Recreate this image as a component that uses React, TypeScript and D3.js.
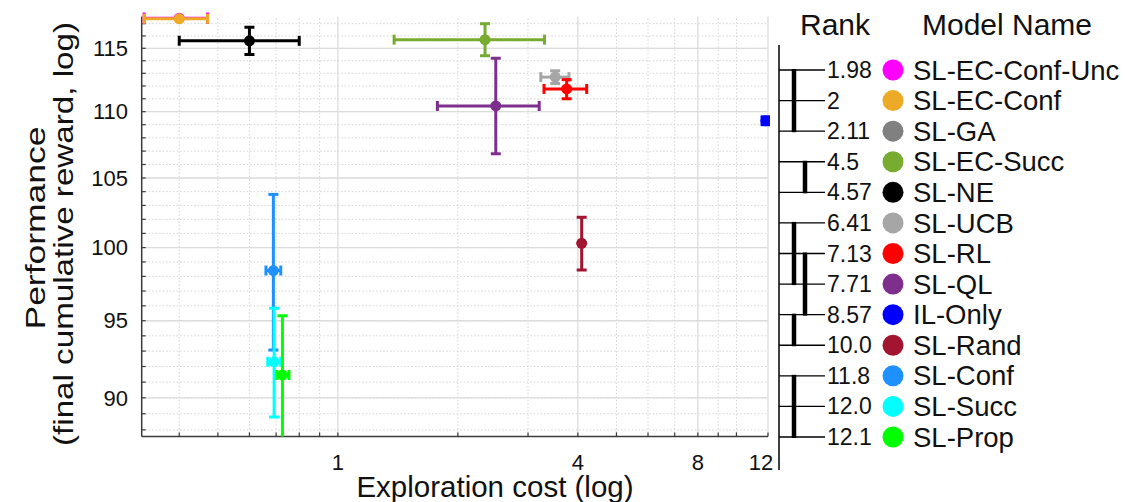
import React from "react";
import * as d3 from "d3";

// ---------- Legend / rank panel data ----------
const modelNames = [
  "SL-EC-Conf-Unc", "SL-EC-Conf", "SL-GA", "SL-EC-Succ", "SL-NE", "SL-UCB",
  "SL-RL", "SL-QL", "IL-Only", "SL-Rand", "SL-Conf", "SL-Succ", "SL-Prop",
];
const rankLabels = ["1.98", "2", "2.11", "4.5", "4.57", "6.41", "7.13", "7.71", "8.57", "10.0", "11.8", "12.0", "12.1"];
const modelColors = [
  "#ff00ff", "#edaa26", "#808080", "#77ac30", "#000000", "#a6a6a6",
  "#ff0000", "#7e2f8e", "#0000ff", "#a2142f", "#1e90ff", "#00ffff", "#00ff00",
];
// groups of models not significantly different (row index from..to, nesting level)
const groupFrom = [0, 3, 5, 6, 8, 10];
const groupTo = [2, 4, 7, 8, 9, 12];
const groupLevel = [0, 1, 0, 1, 0, 0];

// ---------- Scatter data ----------
const pointModels = [
  "SL-QL", "SL-EC-Succ", "SL-NE", "SL-UCB", "SL-RL", "IL-Only", "SL-Rand",
  "SL-Conf", "SL-Succ", "SL-Prop", "SL-EC-Conf-Unc", "SL-EC-Conf",
];
const costMean = [2.49, 2.34, 0.60, 3.51, 3.75, 11.85, 4.09, 0.689, 0.692, 0.726, 0.40, 0.40];
const costLow = [1.777, 1.384, 0.40, 3.23, 3.29, 11.6, 4.09, 0.66, 0.667, 0.703, 0.3265, 0.3265];
const costHigh = [3.20, 3.30, 0.80, 3.80, 4.21, 12.1, 4.09, 0.719, 0.719, 0.754, 0.471, 0.471];
const perfMean = [110.44, 115.7, 115.6, 112.7, 111.77, 109.3, 100.3, 98.4, 92.3, 91.45, 117.45, 117.4];
const perfLow = [106.8, 114.4, 114.5, 112.2, 111.0, 109.0, 98.44, 93.07, 88.8, 87.0, 117.45, 117.4];
const perfHigh = [114.2, 117.0, 116.7, 113.2, 112.5, 109.6, 102.15, 103.8, 95.83, 95.34, 117.45, 117.4];

// ---------- Axis ticks ----------
const xDomain = [0.322, 12];
const yDomain = [87.6, 117.6];
const xTickLabels = [1, 4, 8, 12];
const xMinorTicks = [0.4, 0.5, 0.6, 0.7, 0.8, 0.9, 2, 3, 5, 6, 7, 9, 10];
const yTickLabels = [90, 95, 100, 105, 110, 115];
const yMinorTicks = d3.range(88, 118);

const FONT = "'Liberation Sans', Arial, Helvetica, sans-serif";

export default function App() {
  const x = d3.scaleLog().domain(xDomain).range([141.7, 768]);
  const y = d3.scaleLog().domain(yDomain).range([436.4, 16.4]);
  const [x0, x1] = x.range();
  const [yb, yt] = y.range();
  const axisColor = "#3a3a3a";

  const rowY = d3.scalePoint<string>().domain(modelNames).range([70, 437]);
  const colorOf = (m: string) => modelColors[modelNames.indexOf(m)];

  const cap = 5;
  const groupX = d3.scaleLinear().domain([0, 1]).range([794, 805]);

  return (
    <svg width={1125} height={502} style={{ position: "absolute", left: 0, top: 0, background: "#fff" }} fontFamily={FONT}>
      <defs>
        <clipPath id="plotclip">
          <rect x={x0 - 10} y={0} width={x1 - x0 + 12} height={yb} />
        </clipPath>
      </defs>

      {/* minor grid */}
      {yMinorTicks.map((v) => (
        <line key={"ymg" + v} x1={x0} x2={x1} y1={y(v)} y2={y(v)} stroke="#d4d4d4" strokeWidth={1} strokeDasharray="1.5,2" />
      ))}
      {xMinorTicks.map((v) => (
        <line key={"xmg" + v} x1={x(v)} x2={x(v)} y1={yb} y2={yt} stroke="#d4d4d4" strokeWidth={1} strokeDasharray="1.5,2" />
      ))}
      {/* major grid */}
      {yTickLabels.map((v) => (
        <line key={"yg" + v} x1={x0} x2={x1} y1={y(v)} y2={y(v)} stroke="#dcdcdc" strokeWidth={1.3} />
      ))}
      {xTickLabels.map((v) => (
        <line key={"xg" + v} x1={x(v)} x2={x(v)} y1={yb} y2={yt} stroke="#dcdcdc" strokeWidth={1.3} />
      ))}

      {/* axes */}
      <line x1={x0} x2={x0} y1={yb} y2={yt} stroke={axisColor} strokeWidth={1.5} />
      <line x1={x0} x2={x1} y1={yb} y2={yb} stroke={axisColor} strokeWidth={1.5} />
      {yMinorTicks.map((v) => (
        <line key={"yt" + v} x1={x0} x2={x0 + 4} y1={y(v)} y2={y(v)} stroke={axisColor} strokeWidth={1.2} />
      ))}
      {[...xMinorTicks, ...xTickLabels].map((v) => (
        <line key={"xt" + v} x1={x(v)} x2={x(v)} y1={yb} y2={yb - 4} stroke={axisColor} strokeWidth={1.2} />
      ))}

      {/* tick labels */}
      {yTickLabels.map((v) => (
        <text key={"yl" + v} x={128} y={y(v)} dy="0.35em" textAnchor="end" fontSize={22} fill="#111">{v}</text>
      ))}
      {xTickLabels.map((v, i) => (
        <text key={"xl" + v} x={x(v)} dx={i === xTickLabels.length - 1 ? -7 : 0} y={469.5} textAnchor="middle" fontSize={22} fill="#111">{v}</text>
      ))}

      {/* axis titles */}
      <text x={495} y={496.5} textAnchor="middle" fontSize={29.5} fill="#111">Exploration cost (log)</text>
      <text transform={`translate(45,228) rotate(-90)`} textAnchor="middle" fontSize={27} textLength={203} lengthAdjust="spacingAndGlyphs" fill="#111">Performance</text>
      <text transform={`translate(73,234) rotate(-90)`} textAnchor="middle" fontSize={27} textLength={424} lengthAdjust="spacingAndGlyphs" fill="#111">(final cumulative reward, log)</text>

      {/* error bars + markers */}
      <g clipPath="url(#plotclip)">
        {pointModels.map((m, i) => {
          const c = colorOf(m);
          const cx = x(costMean[i]);
          const cy = y(perfMean[i]);
          const xl = x(costLow[i]);
          const xh = x(costHigh[i]);
          const yl = y(perfLow[i]);
          const yh = y(perfHigh[i]);
          const capSize = m === "SL-EC-Conf-Unc" ? cap + 0.8 : cap;
          return (
            <g key={m} stroke={c} strokeWidth={3} fill={c}>
              {xh - xl > 0.5 && (
                <>
                  <line x1={xl} x2={xh} y1={cy} y2={cy} />
                  <line x1={xl} x2={xl} y1={cy - capSize} y2={cy + capSize} />
                  <line x1={xh} x2={xh} y1={cy - capSize} y2={cy + capSize} />
                </>
              )}
              {yl - yh > 0.5 && (
                <>
                  <line x1={cx} x2={cx} y1={yl} y2={yh} />
                  <line x1={cx - capSize} x2={cx + capSize} y1={yl} y2={yl} />
                  <line x1={cx - capSize} x2={cx + capSize} y1={yh} y2={yh} />
                </>
              )}
              <circle cx={cx} cy={cy} r={5.5} stroke="none" />
            </g>
          );
        })}
      </g>

      {/* rank panel */}
      <line x1={779} x2={779} y1={45} y2={470} stroke="#000" strokeWidth={1.5} />
      {modelNames.map((m, i) => (
        <g key={"row" + m}>
          <line x1={779} x2={825} y1={rowY(m)} y2={rowY(m)} stroke="#000" strokeWidth={1.3} />
          <text x={827} y={rowY(m)} dy="0.35em" fontSize={23} fill="#111">{rankLabels[i]}</text>
          <circle cx={893} cy={rowY(m)} r={10.5} fill={modelColors[i]} />
          <text x={913} y={rowY(m)} dy="0.35em" fontSize={27.5} fill="#111">{m}</text>
        </g>
      ))}
      {groupFrom.map((f, i) => (
        <line
          key={"grp" + i}
          x1={groupX(groupLevel[i])}
          x2={groupX(groupLevel[i])}
          y1={rowY(modelNames[f])! - 1}
          y2={rowY(modelNames[groupTo[i]])! + 1}
          stroke="#000"
          strokeWidth={4.5}
        />
      ))}
      <text x={835} y={35} textAnchor="middle" fontSize={30} fill="#111">Rank</text>
      <text x={1007} y={35} textAnchor="middle" fontSize={30} fill="#111">Model Name</text>
    </svg>
  );
}
